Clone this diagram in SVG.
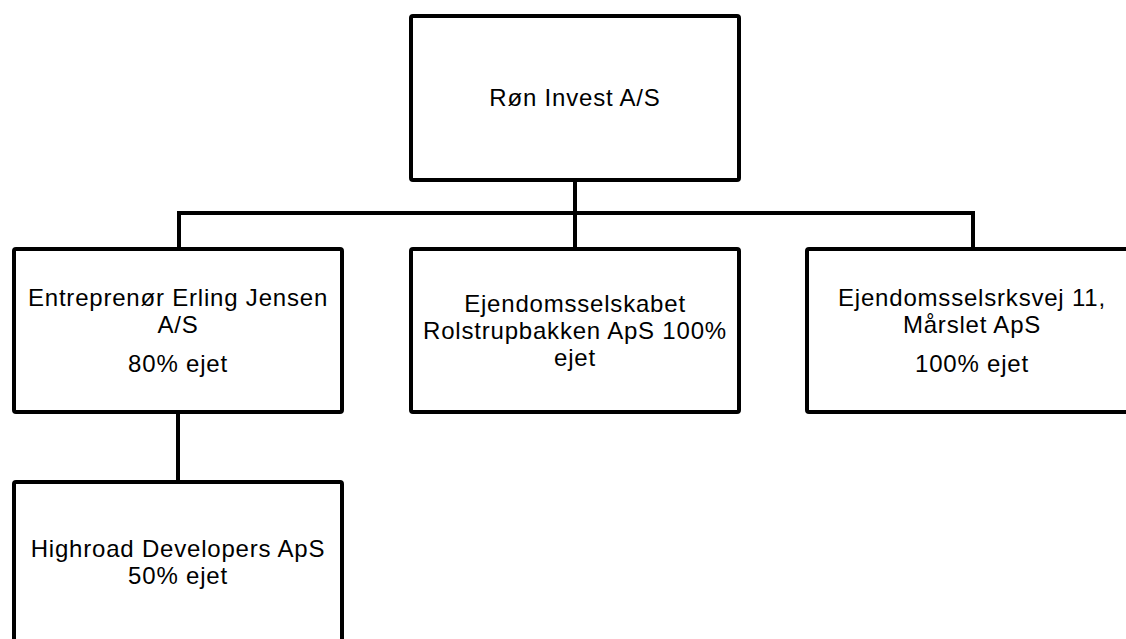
<svg xmlns="http://www.w3.org/2000/svg" width="1126" height="639" viewBox="0 0 1126 639">
<style>
.box{fill:#fff;stroke:#000;stroke-width:4;stroke-linejoin:round}
.ln{fill:none;stroke:#000;stroke-width:4}
text{font-family:"Liberation Sans",Arial,sans-serif;font-size:24px;letter-spacing:0.8px;fill:#000;text-anchor:middle}
</style>
<rect width="1126" height="639" fill="#fff"/>
<g id="connectors">
<path class="ln" d="M575 180V249M179 213H973M179 211V249M973 211V249M178 412V482"/>
</g>
<g id="root">
<rect class="box" x="411" y="16" width="328" height="164" rx="2"/>
<text x="575" y="106">Røn Invest A/S</text>
</g>
<g id="n-erling">
<rect class="box" x="14" y="249" width="328" height="163" rx="2"/>
<text x="178" y="306">Entreprenør Erling Jensen</text>
<text x="178" y="333">A/S</text>
<text x="178" y="372">80% ejet</text>
</g>
<g id="n-rolstrup">
<rect class="box" x="411" y="249" width="328" height="163" rx="2"/>
<text x="575" y="312">Ejendomsselskabet</text>
<text x="575" y="339">Rolstrupbakken ApS 100%</text>
<text x="575" y="366">ejet</text>
</g>
<g id="n-maarslet">
<rect class="box" x="807" y="249" width="328" height="163" rx="2"/>
<text x="972" y="306">Ejendomsselsrksvej 11,</text>
<text x="972" y="333">Mårslet ApS</text>
<text x="972" y="372">100% ejet</text>
</g>
<g id="n-highroad">
<rect class="box" x="14" y="482" width="328" height="170" rx="2"/>
<text x="178" y="557">Highroad Developers ApS</text>
<text x="178" y="584">50% ejet</text>
</g>
</svg>
